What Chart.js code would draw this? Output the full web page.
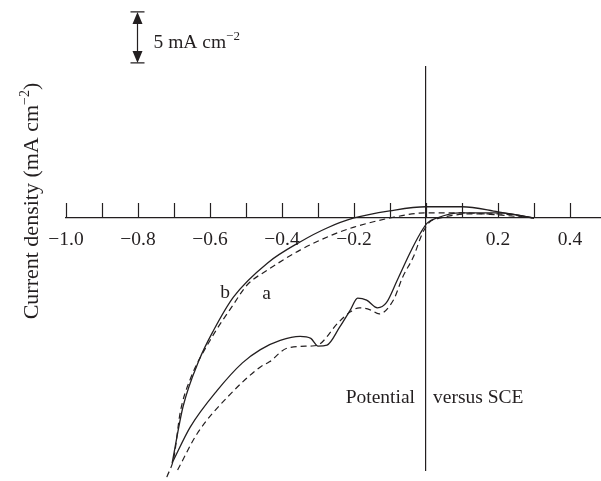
<!DOCTYPE html>
<html>
<head>
<meta charset="utf-8">
<script src="https://cdn.jsdelivr.net/npm/chart.js@4"></script>
<style>
  body { margin: 0; background: #fff; }
</style>
</head>
<body>
<canvas id="cv" width="601" height="481"></canvas>
<script>
// potential (V vs SCE) and current density (mA cm-2)
// curve b (solid), upper and lower branch
const bUpperX = [-0.705, -0.675, -0.63, -0.59, -0.535, -0.44, -0.35, -0.275, -0.20, -0.10, 0.00, 0.10, 0.20, 0.30];
const bUpperY = [-24.0, -18.5, -13.9, -11.0, -7.75, -4.4, -2.35, -0.98, 0, 0.7, 1.1, 1.1, 0.6, 0];
const bLowerX = [-0.705, -0.655, -0.58, -0.51, -0.46, -0.405, -0.35, -0.32, -0.30, -0.275, -0.24, -0.21, -0.19,
  -0.165, -0.135, -0.11, -0.08, -0.045, -0.015, 0.003, 0.03, 0.095, 0.205, 0.30];
const bLowerY = [-24.0, -20.5, -16.9, -14.2, -12.9, -12.0, -11.6, -11.8, -12.55, -12.45, -10.7, -9.0, -7.85,
  -8.05, -8.8, -8.3, -6.1, -3.45, -1.45, -0.5, 0, 0.5, 0.5, 0];
// curve a (dashed), upper and lower branch
const aUpperX = [-0.72, -0.70, -0.683, -0.656, -0.60, -0.536, -0.497, -0.44, -0.35, -0.26, -0.20, -0.10, 0.00, 0.10, 0.20, 0.30];
const aUpperY = [-25.4, -23.4, -19.1, -15.9, -12.0, -8.53, -6.57, -5.1, -3.15, -1.65, -0.9, 0, 0.5, 0.5, 0.3, 0];
const aLowerX = [-0.69, -0.635, -0.55, -0.46, -0.435, -0.385, -0.32, -0.30, -0.245, -0.21, -0.185, -0.155, -0.13,
  -0.09, -0.065, -0.035, -0.01, 0.01, 0.04, 0.12, 0.20, 0.30];
const aLowerY = [-24.7, -21.1, -17.5, -14.6, -14.1, -12.75, -12.55, -12.45, -10.3, -9.2, -8.8, -9.0, -9.4,
  -8.0, -5.8, -3.8, -1.5, -0.4, 0, 0.4, 0.4, 0];

const xTicks = [-1.0, -0.9, -0.8, -0.7, -0.6, -0.5, -0.4, -0.3, -0.2, -0.1, 0, 0.1, 0.2, 0.3, 0.4];
const xLabels = [-1.0, -0.8, -0.6, -0.4, -0.2, 0.2, 0.4];

const ink = '#231f20';
const serif = '"Liberation Serif", "Times New Roman", serif';

function branch(xs, ys, dashed) {
  return {
    data: xs.map((x, i) => ({ x: x, y: ys[i] })),
    showLine: true,
    borderColor: ink,
    borderWidth: dashed ? 1.2 : 1.3,
    borderDash: dashed ? [6, 4] : [],
    pointRadius: 0,
    cubicInterpolationMode: 'monotone',
    clip: false
  };
}

const decorations = {
  id: 'decorations',
  afterDraw(chart) {
    const ctx = chart.ctx;
    const xs = chart.scales.x, ys = chart.scales.y;
    const y0 = ys.getPixelForValue(0);
    const x0 = xs.getPixelForValue(0);
    ctx.save();
    ctx.strokeStyle = ink;
    ctx.fillStyle = ink;
    ctx.lineWidth = 1.2;

    // tick marks above the potential axis
    xTicks.forEach(v => {
      const px = Math.round(xs.getPixelForValue(v)) + 0.5;
      ctx.beginPath();
      ctx.moveTo(px, y0);
      ctx.lineTo(px, y0 - 15);
      ctx.stroke();
    });

    // 5 mA cm-2 scale bar
    const bx = Math.round(xs.getPixelForValue(-0.803)) + 0.5;
    const top = ys.getPixelForValue(20.2);
    const bot = ys.getPixelForValue(15.2);
    ctx.beginPath();
    ctx.moveTo(bx - 7, top); ctx.lineTo(bx + 7, top);
    ctx.moveTo(bx - 7, bot); ctx.lineTo(bx + 7, bot);
    ctx.moveTo(bx, top + 8); ctx.lineTo(bx, bot - 8);
    ctx.stroke();
    ctx.beginPath();
    ctx.moveTo(bx, top); ctx.lineTo(bx - 5, top + 12); ctx.lineTo(bx + 5, top + 12); ctx.closePath();
    ctx.moveTo(bx, bot); ctx.lineTo(bx - 5, bot - 12); ctx.lineTo(bx + 5, bot - 12); ctx.closePath();
    ctx.fill();

    ctx.textBaseline = 'alphabetic';
    ctx.textAlign = 'left';
    ctx.font = '19.5px ' + serif;
    let tx = bx + 16;
    ctx.fillText('5 mA cm', tx, 48);
    tx += ctx.measureText('5 mA cm').width;
    ctx.font = '13px ' + serif;
    ctx.fillText('\u22122', tx, 40);

    // curve labels
    ctx.font = '19.5px ' + serif;
    ctx.textAlign = 'center';
    ctx.fillText('b', xs.getPixelForValue(-0.558), ys.getPixelForValue(-7.84));
    ctx.fillText('a', xs.getPixelForValue(-0.443), ys.getPixelForValue(-7.94));

    // axis caption split by the current axis
    ctx.textAlign = 'right';
    ctx.fillText('Potential', x0 - 11, 403);
    ctx.textAlign = 'left';
    ctx.fillText('versus SCE', x0 + 7, 403);

    // y title, rotated
    ctx.translate(38, 201);
    ctx.rotate(-Math.PI / 2);
    ctx.textAlign = 'left';
    const main = 'Current density (mA cm';
    ctx.font = '22px ' + serif;
    const wMain = ctx.measureText(main).width;
    ctx.font = '14px ' + serif;
    const wSup = ctx.measureText('\u22122').width;
    ctx.font = '22px ' + serif;
    const wEnd = ctx.measureText(')').width;
    let sx = -(wMain + wSup + wEnd) / 2;
    ctx.fillText(main, sx, 0);
    sx += wMain;
    ctx.font = '14px ' + serif;
    ctx.fillText('\u22122', sx, -9);
    sx += wSup;
    ctx.font = '22px ' + serif;
    ctx.fillText(')', sx, 0);
    ctx.restore();
  }
};

new Chart(document.getElementById('cv'), {
  type: 'scatter',
  data: {
    datasets: [
      branch(bUpperX, bUpperY, false),
      branch(bLowerX, bLowerY, false),
      branch(aUpperX, aUpperY, true),
      branch(aLowerX, aLowerY, true)
    ]
  },
  options: {
    responsive: false,
    animation: false,
    layout: { padding: { left: 66, right: 0, top: 67, bottom: 11 } },
    plugins: { legend: { display: false }, tooltip: { enabled: false } },
    scales: {
      x: {
        type: 'linear',
        min: -1.0,
        max: 0.486,
        position: { y: 0 },
        afterBuildTicks: (axis) => { axis.ticks = xTicks.map(v => ({ value: v })); },
        grid: { display: false, drawTicks: false },
        border: { display: true, color: ink, width: 1.2 },
        ticks: {
          padding: 10,
          maxRotation: 0,
          autoSkip: false,
          color: ink,
          font: { family: serif, size: 19.5 },
          callback: (v) => xLabels.some(l => Math.abs(l - v) < 1e-6) ? v.toFixed(1).replace('-', '\u2212') : ''
        }
      },
      y: {
        type: 'linear',
        min: -24.7,
        max: 14.8,
        position: { x: 0 },
        grid: { display: false, drawTicks: false },
        border: { display: true, color: ink, width: 1.2 },
        ticks: { display: false }
      }
    }
  },
  plugins: [decorations]
});
</script>
</body>
</html>
